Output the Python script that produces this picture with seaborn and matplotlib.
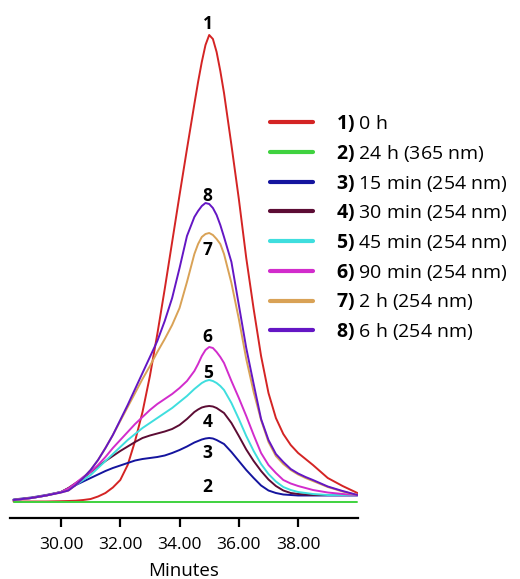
import matplotlib
matplotlib.use("Agg")
import matplotlib.pyplot as plt
import seaborn as sns
import pandas as pd

# ---- data ----
minutes = [28.4, 29.0, 29.5, 30.0, 30.25, 30.5, 30.75, 31.0, 31.25, 31.5, 31.75, 32.0,
           32.25, 32.5, 32.75, 33.0, 33.25, 33.5, 33.75, 34.0, 34.25, 34.5, 34.625,
           34.75, 34.875, 35.0, 35.125, 35.25, 35.375, 35.5, 35.75, 36.0, 36.25, 36.5,
           36.75, 37.0, 37.25, 37.5, 37.75, 38.0, 38.25, 38.5, 39.0, 39.5, 40.0]

s1_0h = [0.5, 0.5, 0.5, 0.8, 1, 1.3, 2, 3, 5.5, 9, 14.5, 22,
         37, 61, 90, 126, 168, 213, 260, 307, 353, 398, 420,
         440, 457, 467, 463, 450, 431, 409, 357, 303, 244, 193,
         146, 109, 84, 68, 57, 49, 43, 37, 24, 16, 9]
s2_24h_365 = [0, 0, 0, 0, 0, 0, 0, 0, 0, 0, 0, 0,
              0, 0, 0, 0, 0, 0, 0, 0, 0, 0, 0,
              0, 0, 0, 0, 0, 0, 0, 0, 0, 0, 0,
              0, 0, 0, 0, 0, 0, 0, 0, 0, 0, 0]
s3_15min = [2.5, 4.5, 7, 10, 13.5, 17, 20.5, 24, 27.5, 31, 34, 36.5,
            39, 41.5, 43, 44, 45, 46.5, 49, 52, 55.5, 59.5, 61,
            62.5, 63.5, 64, 63.5, 62, 60, 58, 50, 41, 32, 24,
            16.5, 11.5, 9, 7.5, 7, 6.5, 6.5, 6.5, 6.5, 6.5, 6.5]
s4_30min = [2, 4, 6.5, 10, 14, 19, 24, 30, 35.5, 41, 46, 51,
            55.5, 60, 64, 66.5, 68.5, 70.5, 73, 77, 83, 90, 92.5,
            94.5, 95.5, 96, 95.5, 94, 91.5, 89, 79, 66, 52.5, 41,
            31, 22.5, 16, 11.5, 9, 8, 7.5, 7, 7, 7, 7]
s5_45min = [2, 4, 6.5, 10, 13, 17, 22, 27, 34, 41, 48, 55,
            62, 68, 74, 79, 84, 89, 94, 100, 106, 113, 116,
            119, 121, 122, 121, 119, 116, 112, 99, 83, 66, 51,
            38, 28, 20.5, 15, 12, 10, 9, 8, 7, 7, 7]
s6_90min = [2, 4, 6.5, 10, 13.5, 19, 25, 30, 37, 45, 54, 62,
            70, 78, 85, 92, 98, 103, 108, 114, 121, 131, 138,
            146, 152, 155, 154, 150, 145, 139, 121, 104, 86, 67,
            49, 37, 29, 22, 18.5, 16, 14, 12, 9.5, 8, 7]
s7_2h = [2, 4, 6.5, 9.5, 11.5, 17, 24, 32, 42, 54, 67, 81,
         95, 109, 123, 136, 150, 163, 177, 194, 220, 248, 258,
         265, 268, 269, 267, 263, 258, 248, 219, 183, 143, 110,
         82, 60, 46, 38, 32, 27.5, 24, 21, 15, 10.5, 7]
s8_6h = [2, 4, 6.5, 9.5, 11.5, 17, 24, 32, 42, 54, 67, 82,
         97, 113, 129, 145, 161, 181, 204, 234, 266, 285, 291,
         296, 299, 298, 294, 287, 277, 265, 240, 197, 154, 118,
         83, 62, 48, 40, 33, 28.5, 25, 22, 15.5, 11, 7]

series_ids = ["1", "2", "3", "4", "5", "6", "7", "8"]
series_text = ["0 h", "24 h (365 nm)", "15 min (254 nm)", "30 min (254 nm)",
               "45 min (254 nm)", "90 min (254 nm)", "2 h (254 nm)", "6 h (254 nm)"]
series_values = [s1_0h, s2_24h_365, s3_15min, s4_30min, s5_45min, s6_90min, s7_2h, s8_6h]
tick_values = [30, 32, 34, 36, 38]
tick_labels = ["30.00", "32.00", "34.00", "36.00", "38.00"]

# ---- styles ----
colors = ["#d42424", "#3fd23f", "#14149e", "#5c0c34", "#3fdede", "#d22ccc", "#d9a256", "#6416c4"]
# vertical offsets (signal units) of the number tags from each curve's top
tag_dy = [11, 15, -15, -16, 7, 10, -17, 7]

rows = []
for sid, vals in zip(series_ids, series_values):
    for t, v in zip(minutes, vals):
        rows.append({"Minutes": t, "Signal": v, "Series": sid})
df = pd.DataFrame(rows)

sns.set_theme(style="white")
plt.rcParams["font.family"] = ["Open Sans", "DejaVu Sans"]
plt.rcParams["mathtext.fontset"] = "custom"
plt.rcParams["mathtext.bf"] = "Open Sans:bold"
plt.rcParams["mathtext.rm"] = "Open Sans"
plt.rcParams["text.color"] = "black"

W, H = 520, 579
fig = plt.figure(figsize=(W / 100, H / 100), dpi=100)
ax = fig.add_axes([10 / W, 61 / H, 348 / W, 508 / H])

palette = dict(zip(series_ids, colors))
sns.lineplot(data=df, x="Minutes", y="Signal", hue="Series", hue_order=series_ids,
             palette=palette, estimator=None, sort=False, linewidth=1.4, ax=ax, legend=True)

ax.set_xlim(28.28, 40.02)
ax.set_ylim(-16, 492)
ax.set_xticks(tick_values)
ax.set_xticklabels(tick_labels)
ax.set_yticks([])
ax.set_ylabel("")
for s in ["left", "top", "right"]:
    ax.spines[s].set_visible(False)
ax.spines["bottom"].set_linewidth(1.6)
ax.spines["bottom"].set_color("black")
ax.tick_params(axis="x", direction="out", length=6.5, width=1.6, color="black",
               labelsize=12.5, labelcolor="black", pad=7.5, bottom=True)
ax.set_xlabel("Minutes", fontsize=13.5, color="black", labelpad=6.5)
ax.patch.set_alpha(0)

# number tags above/below each curve's top, at the main peak time
peak_i = max(range(len(s1_0h)), key=lambda k: s1_0h[k])
tag_x = minutes[peak_i] - 0.05
for sid, vals, dy in zip(series_ids, series_values, tag_dy):
    top = max(vals)
    ax.text(tag_x, top + dy, sid, ha="center", va="center",
            fontsize=12.5, fontweight="bold", color="black", clip_on=False)

# legend
handles, _ = ax.get_legend_handles_labels()
labels = [r"$\mathbf{%s)}$ %s" % (sid, txt) for sid, txt in zip(series_ids, series_text)]
leg = ax.legend(handles[:len(labels)], labels, loc="upper left",
                bbox_to_anchor=(270 / W, 1 - 113 / H), bbox_transform=fig.transFigure,
                frameon=False, fontsize=14, handlelength=2.2, handletextpad=1.2,
                labelspacing=0.45, borderpad=0, borderaxespad=0)
for ln in leg.get_lines():
    ln.set_linewidth(3)
for txt in leg.get_texts():
    txt.set_color("black")

fig.savefig("out.png", dpi=100, facecolor="white")
